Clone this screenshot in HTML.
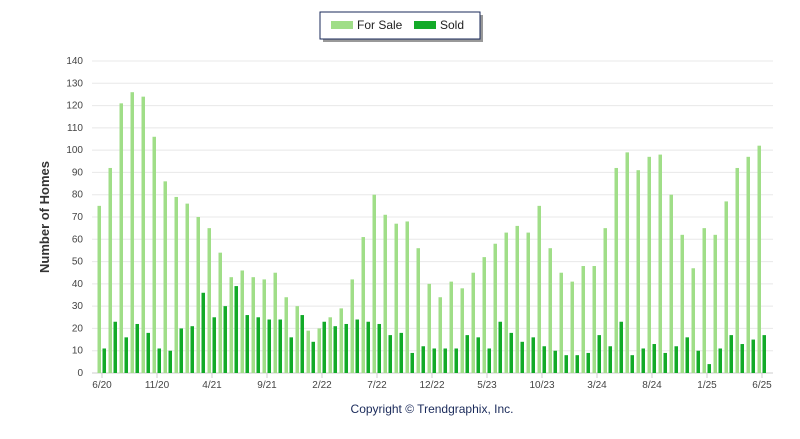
<!DOCTYPE html>
<html><head><meta charset="utf-8"><style>
body{margin:0;background:#fff;font-family:"Liberation Sans",sans-serif;}
svg text{font-family:"Liberation Sans",sans-serif;}
</style></head><body>
<svg id="chart" width="800" height="434" xmlns="http://www.w3.org/2000/svg">
<g>
<rect x="323" y="15" width="160" height="27" fill="#999"/>
<rect x="320" y="12" width="160" height="27" fill="#fff" stroke="#1a2a5a" stroke-width="1"/>
<rect x="331" y="21" width="22" height="8" fill="#a0de88"/>
<text x="357" y="29" font-size="12" fill="#222">For Sale</text>
<rect x="414" y="21" width="22" height="8" fill="#12aa28"/>
<text x="440" y="29" font-size="12" fill="#222">Sold</text>
</g>
<text transform="translate(49,217) rotate(-90)" text-anchor="middle" font-size="13" font-weight="bold" fill="#333">Number of Homes</text>
<text x="432" y="413" text-anchor="middle" font-size="12" fill="#1a2a5a">Copyright © Trendgraphix, Inc.</text>
<g id="grid"></g><g id="bars"></g><g id="xaxis"></g>
</svg>
<script>
const forSale=[75,92,121,126,124,106,86,79,76,70,65,54,43,46,43,42,45,34,30,19,20,25,29,42,61,80,71,67,68,56,40,34,41,38,45,52,58,63,66,63,75,56,45,41,48,48,65,92,99,91,97,98,80,62,47,65,62,77,92,97,102];
const sold=[11,23,16,22,18,11,10,20,21,36,25,30,39,26,25,24,24,16,26,14,23,21,22,24,23,22,17,18,9,12,11,11,11,17,16,11,23,18,14,16,12,10,8,8,9,17,12,23,8,11,13,9,12,16,10,4,11,17,13,15,17];
const yTicks=[0,10,20,30,40,50,60,70,80,90,100,110,120,130,140];
const xLabels=["6/20","11/20","4/21","9/21","2/22","7/22","12/22","5/23","10/23","3/24","8/24","1/25","6/25"];
const NS="http://www.w3.org/2000/svg";
const y0=373,yTop=61,xL=92,xR=773,x0=102,dx=11;
const y=v=>y0-(v/140)*(y0-yTop);
const x=i=>x0+i*dx;
function mk(tag,attrs,parent){const e=document.createElementNS(NS,tag);for(const k in attrs)e.setAttribute(k,attrs[k]);document.getElementById(parent).appendChild(e);return e;}
yTicks.forEach(t=>{
 const l=mk('line',{x1:xL,x2:xR,y1:y(t),y2:y(t),stroke:t===0?'#ccc':'#e8e8e8','stroke-width':1},'grid');
 
 
 const tx=mk('text',{x:83,y:y(t)+3,'text-anchor':'end','font-size':10,fill:'#444'},'grid');
 
 
 tx.textContent=t;
});
forSale.forEach((v,i)=>{
 const r=mk('rect',{x:x(i)-4.5,y:y(v),width:3.5,height:y0-y(v),fill:'#a0de88'},'bars');
 
 
});
sold.forEach((v,i)=>{
 const r=mk('rect',{x:x(i)+0.5,y:y(v),width:3.5,height:y0-y(v),fill:'#12aa28'},'bars');
 
 
});
xLabels.forEach((s,k)=>{
 const i=k*5;
 const tk=mk('line',{x1:x(i),x2:x(i),y1:y0,y2:y0+5,stroke:'#ccc'},'xaxis');
 
 
 const tx=mk('text',{x:x(i),y:y0+15,'text-anchor':'middle','font-size':10,fill:'#444'},'xaxis');
 
 
 tx.textContent=s;
});
</script>
</body></html>
